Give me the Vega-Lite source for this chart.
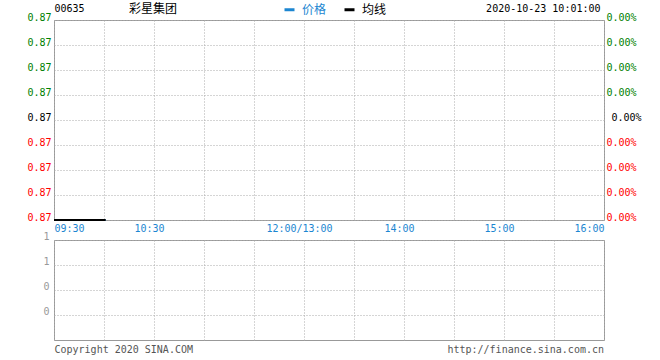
{
  "$schema": "https://vega.github.io/schema/vega-lite/v6.json",
  "background": "#ffffff",
  "padding": {"left": 26, "top": 2, "right": 0, "bottom": 0},
  "bounds": "flush",
  "spacing": 20,
  "config": {
    "view": {"stroke": "#999999", "strokeWidth": 1},
    "axis": {
      "labelFont": "DejaVu Sans Mono",
      "labelFontSize": 10,
      "titleFont": "DejaVu Sans Mono",
      "titleFontSize": 10,
      "titleFontWeight": "normal",
      "domain": false,
      "ticks": false,
      "gridColor": "#aaaaaa",
      "gridDash": [1, 2],
      "gridWidth": 1,
      "labelOverlap": false,
      "labelFlush": false,
      "labelBound": false
    }
  },
  "datasets": {
    "minutes": [
      {"t": 0, "价格": 0.87, "均线": 0.87, "成交量": 0},
      {"t": 1, "价格": 0.87, "均线": 0.87, "成交量": 0},
      {"t": 2, "价格": 0.87, "均线": 0.87, "成交量": 0},
      {"t": 3, "价格": 0.87, "均线": 0.87, "成交量": 0},
      {"t": 4, "价格": 0.87, "均线": 0.87, "成交量": 0},
      {"t": 5, "价格": 0.87, "均线": 0.87, "成交量": 0},
      {"t": 6, "价格": 0.87, "均线": 0.87, "成交量": 0},
      {"t": 7, "价格": 0.87, "均线": 0.87, "成交量": 0},
      {"t": 8, "价格": 0.87, "均线": 0.87, "成交量": 0},
      {"t": 9, "价格": 0.87, "均线": 0.87, "成交量": 0},
      {"t": 10, "价格": 0.87, "均线": 0.87, "成交量": 0},
      {"t": 11, "价格": 0.87, "均线": 0.87, "成交量": 0},
      {"t": 12, "价格": 0.87, "均线": 0.87, "成交量": 0},
      {"t": 13, "价格": 0.87, "均线": 0.87, "成交量": 0},
      {"t": 14, "价格": 0.87, "均线": 0.87, "成交量": 0},
      {"t": 15, "价格": 0.87, "均线": 0.87, "成交量": 0},
      {"t": 16, "价格": 0.87, "均线": 0.87, "成交量": 0},
      {"t": 17, "价格": 0.87, "均线": 0.87, "成交量": 0},
      {"t": 18, "价格": 0.87, "均线": 0.87, "成交量": 0},
      {"t": 19, "价格": 0.87, "均线": 0.87, "成交量": 0},
      {"t": 20, "价格": 0.87, "均线": 0.87, "成交量": 0},
      {"t": 21, "价格": 0.87, "均线": 0.87, "成交量": 0},
      {"t": 22, "价格": 0.87, "均线": 0.87, "成交量": 0},
      {"t": 23, "价格": 0.87, "均线": 0.87, "成交量": 0},
      {"t": 24, "价格": 0.87, "均线": 0.87, "成交量": 0},
      {"t": 25, "价格": 0.87, "均线": 0.87, "成交量": 0},
      {"t": 26, "价格": 0.87, "均线": 0.87, "成交量": 0},
      {"t": 27, "价格": 0.87, "均线": 0.87, "成交量": 0},
      {"t": 28, "价格": 0.87, "均线": 0.87, "成交量": 0},
      {"t": 29, "价格": 0.87, "均线": 0.87, "成交量": 0},
      {"t": 30, "价格": 0.87, "均线": 0.87, "成交量": 0},
      {"t": 31, "价格": 0.87, "均线": 0.87, "成交量": 0}
    ]
  },
  "vconcat": [
    {
      "width": 550,
      "height": 200,
      "data": {"name": "minutes"},
      "title": {
        "text": "彩星集团",
        "anchor": "start",
        "frame": "group",
        "dx": 75,
        "dy": 17,
        "font": "Noto Sans CJK SC",
        "fontSize": 12,
        "fontWeight": "normal",
        "color": "#000000",
        "offset": 4
      },
      "encoding": {
        "x": {
          "field": "t",
          "type": "quantitative",
          "scale": {"domain": [0, 330], "nice": false, "zero": false},
          "axis": {
            "title": null,
            "grid": true,
            "values": [0, 30, 60, 90, 120, 150, 180, 210, 240, 270, 300, 330],
            "labelExpr": "datum.value == 0 ? '09:30' : datum.value == 60 ? '10:30' : datum.value == 150 ? '12:00/13:00' : datum.value == 210 ? '14:00' : datum.value == 270 ? '15:00' : datum.value == 330 ? '16:00' : ''",
            "labelColor": "#1c86d1",
            "labelPadding": 3,
            "labelAlign": {"condition": [{"test": "datum.value == 0", "value": "left"}, {"test": "datum.value == 330", "value": "right"}], "value": "center"},
            "labelOffset": {"condition": {"test": "datum.value > 0 && datum.value < 330", "value": -5}, "value": 0}
          }
        },
        "color": {
          "scale": {"domain": ["价格", "均线"], "range": ["#1c86d1", "#000000"]},
          "legend": {
            "title": null,
            "orient": "none",
            "legendX": 229,
            "legendY": -17,
            "direction": "horizontal",
            "padding": 0,
            "symbolType": "stroke",
            "symbolSize": 100,
            "symbolStrokeWidth": 3,
            "labelFont": "Noto Sans CJK SC",
            "labelFontSize": 12,
            "labelOffset": 6,
            "columnPadding": 11,
            "encode": {
              "labels": {"update": {"fill": {"signal": "datum.value === '价格' ? '#1c86d1' : '#000000'"}}}
            }
          }
        }
      },
      "layer": [
        {
          "mark": {"type": "line", "strokeWidth": 2},
          "encoding": {
            "y": {
              "field": "价格",
              "type": "quantitative",
              "scale": {"domain": [0.87, 0.87008], "nice": false, "zero": false},
              "axis": {
                "title": "00635",
                "titleAngle": 0,
                "titleAlign": "left",
                "titleBaseline": "alphabetic",
                "titleX": 0,
                "titleY": -9,
                "titleColor": "#000000",
                "grid": true,
                "values": [0.87, 0.87001, 0.87002, 0.87003, 0.87004, 0.87005, 0.87006, 0.87007, 0.87008],
                "format": ".2f",
                "labelPadding": 3,
                "labelBaseline": "alphabetic",
                "labelOffset": 0,
                "labelColor": {"condition": [{"test": "datum.value > 0.870045", "value": "#008000"}, {"test": "datum.value < 0.870035", "value": "#ff0000"}], "value": "#000000"}
              }
            },
            "color": {"datum": "价格"}
          }
        },
        {
          "mark": {"type": "line", "strokeWidth": 2},
          "encoding": {
            "y": {
              "field": "均线",
              "type": "quantitative",
              "scale": {"domain": [0.87, 0.87008], "nice": false, "zero": false},
              "axis": {
                "orient": "right",
                "title": "2020-10-23 10:01:00",
                "titleAngle": 0,
                "titleAlign": "right",
                "titleBaseline": "alphabetic",
                "titleX": -4,
                "titleY": -9,
                "titleColor": "#000000",
                "grid": false,
                "values": [0.87, 0.87001, 0.87002, 0.87003, 0.87004, 0.87005, 0.87006, 0.87007, 0.87008],
                "labelExpr": "format((datum.value - 0.87004) / 0.87004, '.2%')",
                "labelPadding": {"condition": {"test": "abs(datum.value - 0.87004) < 0.000001", "value": 7}, "value": 2},
                "labelBaseline": "alphabetic",
                "labelOffset": 0,
                "labelColor": {"condition": [{"test": "datum.value > 0.870045", "value": "#008000"}, {"test": "datum.value < 0.870035", "value": "#ff0000"}], "value": "#000000"}
              }
            },
            "color": {"datum": "均线"}
          }
        }
      ],
      "resolve": {"scale": {"y": "independent"}}
    },
    {
      "width": 550,
      "height": 100,
      "data": {"name": "minutes"},
      "title": {
        "text": "http://finance.sina.com.cn",
        "orient": "bottom",
        "anchor": "end",
        "frame": "group",
        "font": "DejaVu Sans Mono",
        "fontSize": 10,
        "fontWeight": "normal",
        "color": "#555555",
        "offset": -9
      },
      "mark": {"type": "rule", "color": "#1c86d1", "strokeWidth": 1},
      "encoding": {
        "x": {
          "field": "t",
          "type": "quantitative",
          "scale": {"domain": [0, 330], "nice": false, "zero": false},
          "axis": {
            "grid": true,
            "values": [0, 30, 60, 90, 120, 150, 180, 210, 240, 270, 300, 330],
            "labels": false,
            "title": "Copyright 2020 SINA.COM",
            "titleAnchor": "start",
            "titleAlign": "left",
            "titleColor": "#555555",
            "titlePadding": 4
          }
        },
        "y": {
          "field": "成交量",
          "type": "quantitative",
          "scale": {"domain": [0, 0.8], "nice": false, "zero": false},
          "axis": {
            "title": null,
            "grid": true,
            "values": [0.2, 0.4, 0.6, 0.8],
            "labelExpr": "'' + round(datum.value)",
            "labelColor": "#999999",
            "labelPadding": 5,
            "labelBaseline": "alphabetic",
            "labelOffset": -1
          }
        },
        "y2": {"datum": 0}
      }
    }
  ]
}
